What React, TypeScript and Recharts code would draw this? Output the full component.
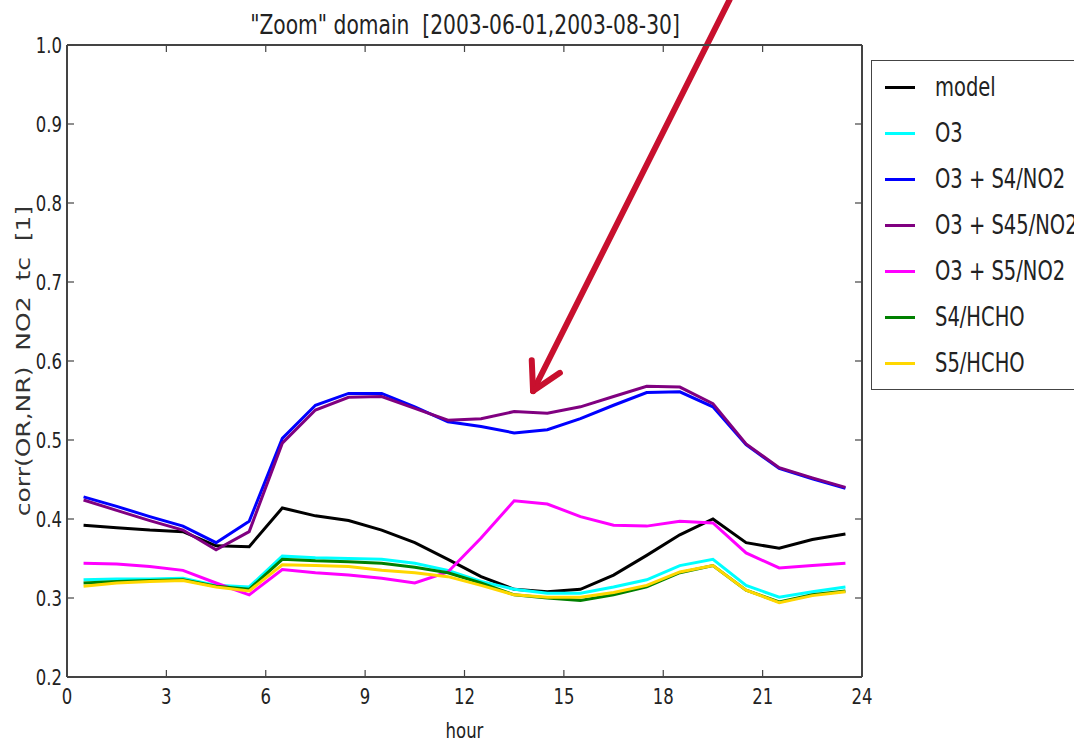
import React from 'react';
import { LineChart, Line, XAxis, YAxis, Legend, ReferenceLine } from 'recharts';

const hours = [0.5, 1.5, 2.5, 3.5, 4.5, 5.5, 6.5, 7.5, 8.5, 9.5, 10.5, 11.5, 12.5, 13.5, 14.5, 15.5, 16.5, 17.5, 18.5, 19.5, 20.5, 21.5, 22.5, 23.5];

const model = [0.392, 0.389, 0.386, 0.384, 0.366, 0.365, 0.414, 0.404, 0.398, 0.386, 0.370, 0.349, 0.327, 0.311, 0.308, 0.311, 0.329, 0.354, 0.380, 0.400, 0.370, 0.363, 0.374, 0.381];
const o3 = [0.323, 0.324, 0.324, 0.325, 0.316, 0.314, 0.353, 0.351, 0.350, 0.349, 0.344, 0.335, 0.321, 0.311, 0.306, 0.306, 0.314, 0.323, 0.341, 0.349, 0.316, 0.301, 0.308, 0.314];
const o3S4No2 = [0.428, 0.416, 0.403, 0.391, 0.370, 0.397, 0.502, 0.544, 0.559, 0.559, 0.542, 0.523, 0.517, 0.509, 0.513, 0.527, 0.544, 0.560, 0.561, 0.542, 0.494, 0.464, 0.451, 0.439];
const o3S45No2 = [0.424, 0.411, 0.398, 0.386, 0.361, 0.384, 0.496, 0.538, 0.554, 0.555, 0.540, 0.525, 0.527, 0.536, 0.534, 0.542, 0.555, 0.568, 0.567, 0.546, 0.495, 0.465, 0.452, 0.440];
const o3S5No2 = [0.344, 0.343, 0.340, 0.335, 0.319, 0.304, 0.336, 0.332, 0.329, 0.325, 0.319, 0.333, 0.376, 0.423, 0.419, 0.403, 0.392, 0.391, 0.397, 0.395, 0.357, 0.338, 0.341, 0.344];
const s4Hcho = [0.319, 0.321, 0.322, 0.323, 0.315, 0.311, 0.349, 0.347, 0.346, 0.344, 0.339, 0.332, 0.319, 0.304, 0.300, 0.297, 0.304, 0.314, 0.332, 0.341, 0.310, 0.295, 0.304, 0.309];
const s5Hcho = [0.315, 0.319, 0.321, 0.322, 0.314, 0.309, 0.342, 0.341, 0.340, 0.335, 0.332, 0.327, 0.316, 0.304, 0.301, 0.301, 0.307, 0.316, 0.333, 0.341, 0.310, 0.294, 0.303, 0.308];

const xTicks = [0, 3, 6, 9, 12, 15, 18, 21, 24];
const yTicks = [0.2, 0.3, 0.4, 0.5, 0.6, 0.7, 0.8, 0.9, 1.0];

const seriesNames = ['model', 'O3', 'O3 + S4/NO2', 'O3 + S45/NO2', 'O3 + S5/NO2', 'S4/HCHO', 'S5/HCHO'];
const seriesKeys = ['model', 'o3', 'o3S4No2', 'o3S45No2', 'o3S5No2', 's4Hcho', 's5Hcho'];
const seriesColors = ['#000000', '#00ffff', '#0000ff', '#800080', '#ff00ff', '#008000', '#ffd700'];
const seriesValues = [model, o3, o3S4No2, o3S45No2, o3S5No2, s4Hcho, s5Hcho];

const titleText = '"Zoom" domain  [2003-06-01,2003-08-30]';
const xLabelText = 'hour';
const yLabelText = 'corr(OR,NR)  NO2  tc  [1]';

// annotation arrow (data coordinates)
const arrowTail = { x: 20.0, y: 1.057 };
const arrowTip = { x: 14.07, y: 0.562 };
const arrowWingA = { x: 14.03, y: 0.601 };
const arrowWingB = { x: 14.88, y: 0.585 };

const data = hours.map((h, i) => {
  const row: Record<string, number> = { hour: h };
  seriesKeys.forEach((k, j) => {
    row[k] = seriesValues[j][i];
  });
  return row;
});

const FONT = '"DejaVu Sans", sans-serif';
const TXT = '#222';
const AXIS = '#444';
const SX = 0.75;

const BottomTick = (props: any) => {
  const { x, y, payload } = props;
  return (
    <g>
      <line x1={x} x2={x} y1={y} y2={y - 7} stroke={AXIS} strokeWidth={1.2} />
      <text transform={`translate(${x},${y + 27}) scale(${SX},1)`} textAnchor="middle" fontSize={22} fontFamily={FONT} fill={TXT}>
        {payload.value}
      </text>
    </g>
  );
};

const TopTick = (props: any) => {
  const { x, y } = props;
  return <line x1={x} x2={x} y1={y} y2={y + 7} stroke={AXIS} strokeWidth={1.2} />;
};

const LeftTick = (props: any) => {
  const { x, y, payload } = props;
  return (
    <g>
      <line x1={x} x2={x + 7} y1={y} y2={y} stroke={AXIS} strokeWidth={1.2} />
      <text transform={`translate(${x - 5},${y + 8}) scale(${SX},1)`} textAnchor="end" fontSize={22} fontFamily={FONT} fill={TXT}>
        {Number(payload.value).toFixed(1)}
      </text>
    </g>
  );
};

const RightTick = (props: any) => {
  const { x, y } = props;
  return <line x1={x} x2={x - 7} y1={y} y2={y} stroke={AXIS} strokeWidth={1.2} />;
};

const renderLegend = () => {
  return (
    <div
      style={{
        border: `1.5px solid ${AXIS}`,
        width: 240,
        height: 330,
        boxSizing: 'border-box',
        background: '#fff',
        paddingTop: 4,
      }}
    >
      {seriesNames.map((name, i) => (
        <div key={name} style={{ height: 46, position: 'relative' }}>
          <div style={{ position: 'absolute', left: 13, top: 21, width: 30, height: 0, borderTop: `3.5px solid ${seriesColors[i]}` }} />
          <span
            style={{
              position: 'absolute',
              left: 63,
              top: 7,
              fontFamily: FONT,
              fontSize: 26,
              color: TXT,
              transform: `scale(${SX},1)`,
              transformOrigin: 'left center',
              whiteSpace: 'nowrap',
              lineHeight: '30px',
            }}
          >
            {name}
          </span>
        </div>
      ))}
    </div>
  );
};

export default function App() {
  return (
    <div style={{ position: 'absolute', left: 0, top: 0, width: 1074, height: 742, overflow: 'hidden', background: '#fff' }}>
      <svg width={1074} height={50} style={{ position: 'absolute', left: 0, top: 0 }}>
        <text transform={`translate(465,34) scale(${SX},1)`} textAnchor="middle" fontSize={27} fontFamily={FONT} fill={TXT} style={{ whiteSpace: 'pre' }}>
          {titleText}
        </text>
      </svg>
      <LineChart width={1074} height={742} data={data} margin={{ top: 44, right: 211, bottom: 64, left: 66 }}>
        <XAxis
          xAxisId="bottom"
          dataKey="hour"
          type="number"
          domain={[0, 24]}
          ticks={xTicks}
          interval={0}
          height={1}
          tickSize={0}
          tickMargin={0}
          tickLine={false}
          tick={<BottomTick />}
          axisLine={{ stroke: AXIS, strokeWidth: 2 }}
          allowDataOverflow
          label={{
            content: (lp: any) => {
              const vb = lp.viewBox || {};
              return (
                <text transform={`translate(${vb.x + vb.width / 2},${vb.y + 61}) scale(${SX},1)`} textAnchor="middle" fontSize={22} fontFamily={FONT} fill={TXT}>
                  {xLabelText}
                </text>
              );
            },
          }}
        />
        <XAxis
          xAxisId="top"
          dataKey="hour"
          type="number"
          orientation="top"
          domain={[0, 24]}
          ticks={xTicks}
          interval={0}
          height={1}
          tickSize={0}
          tickMargin={0}
          tickLine={false}
          tick={<TopTick />}
          axisLine={{ stroke: AXIS, strokeWidth: 2 }}
          allowDataOverflow
        />
        <YAxis
          yAxisId="left"
          type="number"
          domain={[0.2, 1.0]}
          ticks={yTicks}
          interval={0}
          width={1}
          tickSize={0}
          tickMargin={0}
          tickLine={false}
          tick={<LeftTick />}
          axisLine={{ stroke: AXIS, strokeWidth: 2 }}
          allowDataOverflow
          label={{
            content: (lp: any) => {
              const vb = lp.viewBox || {};
              const cy = vb.y + vb.height / 2;
              return (
                <text
                  transform={`translate(${vb.x - 36},${cy}) scale(${SX},1) rotate(-90)`}
                  textAnchor="middle"
                  fontSize={25}
                  fontFamily={FONT}
                  fill="#333"
                  style={{ whiteSpace: 'pre' }}
                >
                  {yLabelText}
                </text>
              );
            },
          }}
        />
        <YAxis
          yAxisId="right"
          orientation="right"
          type="number"
          domain={[0.2, 1.0]}
          ticks={yTicks}
          interval={0}
          width={1}
          tickSize={0}
          tickMargin={0}
          tickLine={false}
          tick={<RightTick />}
          axisLine={{ stroke: AXIS, strokeWidth: 2 }}
          allowDataOverflow
        />
        {seriesKeys.map((k, i) => (
          <Line
            key={k}
            xAxisId="bottom"
            yAxisId="left"
            type="linear"
            dataKey={k}
            name={seriesNames[i]}
            stroke={seriesColors[i]}
            strokeWidth={3}
            dot={false}
            activeDot={false}
            isAnimationActive={false}
          />
        ))}
        <ReferenceLine
          xAxisId="bottom"
          yAxisId="left"
          segment={[arrowTail, arrowTip]}
          stroke="#c8102e"
          strokeWidth={6}
          strokeLinecap="round"
          ifOverflow="visible"
        />
        <ReferenceLine
          xAxisId="bottom"
          yAxisId="left"
          segment={[arrowWingA, arrowTip]}
          stroke="#c8102e"
          strokeWidth={6}
          strokeLinecap="round"
          ifOverflow="visible"
        />
        <ReferenceLine
          xAxisId="bottom"
          yAxisId="left"
          segment={[arrowWingB, arrowTip]}
          stroke="#c8102e"
          strokeWidth={6}
          strokeLinecap="round"
          ifOverflow="visible"
        />
        <Legend
          layout="vertical"
          align="center"
          verticalAlign="middle"
          content={renderLegend}
          wrapperStyle={{ position: 'absolute', left: 871, top: 60, width: 240, height: 330, transform: 'none' }}
        />
      </LineChart>
    </div>
  );
}
